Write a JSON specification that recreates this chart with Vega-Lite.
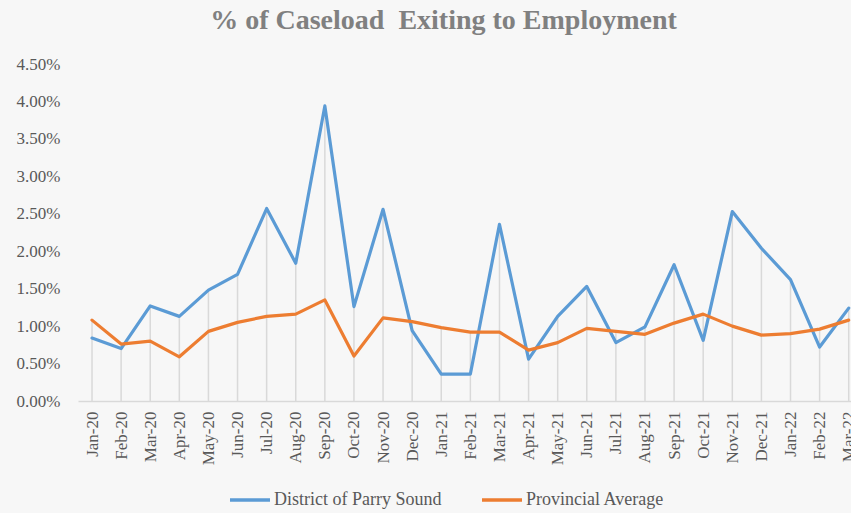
{
  "$schema": "https://vega.github.io/schema/vega-lite/v6.json",
  "autosize": {"type": "none"},
  "width": 773,
  "height": 337,
  "padding": {"left": 78, "top": 64, "right": 0, "bottom": 112},
  "background": "#F7F7F7",
  "config": {
    "view": {"stroke": null},
    "font": "Liberation Serif",
    "axis": {"labelFont": "Liberation Serif", "labelFontSize": 17, "labelColor": "#595959", "ticks": false, "grid": false, "title": null, "labelOverlap": false},
    "axisY": {"domain": false, "labelPadding": 18},
    "axisX": {"domainColor": "#D9D9D9", "domainWidth": 1.5, "labelPadding": 10, "labelAngle": -90}
  },
  "title": {
    "text": "% of Caseload \u00a0Exiting to Employment",
    "font": "Liberation Serif",
    "fontSize": 28,
    "fontWeight": "bold",
    "color": "#808080",
    "anchor": "middle",
    "baseline": "alphabetic",
    "offset": -2,
    "dx": -21
  },
  "data": {
    "values": [
      {"month": "Jan-20", "series": "District of Parry Sound", "value": 0.0084},
      {"month": "Feb-20", "series": "District of Parry Sound", "value": 0.0070},
      {"month": "Mar-20", "series": "District of Parry Sound", "value": 0.0127},
      {"month": "Apr-20", "series": "District of Parry Sound", "value": 0.0113},
      {"month": "May-20", "series": "District of Parry Sound", "value": 0.0148},
      {"month": "Jun-20", "series": "District of Parry Sound", "value": 0.0169},
      {"month": "Jul-20", "series": "District of Parry Sound", "value": 0.0257},
      {"month": "Aug-20", "series": "District of Parry Sound", "value": 0.0184},
      {"month": "Sep-20", "series": "District of Parry Sound", "value": 0.0394},
      {"month": "Oct-20", "series": "District of Parry Sound", "value": 0.0126},
      {"month": "Nov-20", "series": "District of Parry Sound", "value": 0.0256},
      {"month": "Dec-20", "series": "District of Parry Sound", "value": 0.0094},
      {"month": "Jan-21", "series": "District of Parry Sound", "value": 0.0036},
      {"month": "Feb-21", "series": "District of Parry Sound", "value": 0.0036},
      {"month": "Mar-21", "series": "District of Parry Sound", "value": 0.0236},
      {"month": "Apr-21", "series": "District of Parry Sound", "value": 0.0056},
      {"month": "May-21", "series": "District of Parry Sound", "value": 0.0113},
      {"month": "Jun-21", "series": "District of Parry Sound", "value": 0.0153},
      {"month": "Jul-21", "series": "District of Parry Sound", "value": 0.0078},
      {"month": "Aug-21", "series": "District of Parry Sound", "value": 0.0099},
      {"month": "Sep-21", "series": "District of Parry Sound", "value": 0.0182},
      {"month": "Oct-21", "series": "District of Parry Sound", "value": 0.0081},
      {"month": "Nov-21", "series": "District of Parry Sound", "value": 0.0253},
      {"month": "Dec-21", "series": "District of Parry Sound", "value": 0.0204},
      {"month": "Jan-22", "series": "District of Parry Sound", "value": 0.0162},
      {"month": "Feb-22", "series": "District of Parry Sound", "value": 0.0072},
      {"month": "Mar-22", "series": "District of Parry Sound", "value": 0.0124},
      {"month": "Jan-20", "series": "Provincial Average", "value": 0.0108},
      {"month": "Feb-20", "series": "Provincial Average", "value": 0.0076},
      {"month": "Mar-20", "series": "Provincial Average", "value": 0.0080},
      {"month": "Apr-20", "series": "Provincial Average", "value": 0.0059},
      {"month": "May-20", "series": "Provincial Average", "value": 0.0093},
      {"month": "Jun-20", "series": "Provincial Average", "value": 0.0105},
      {"month": "Jul-20", "series": "Provincial Average", "value": 0.0113},
      {"month": "Aug-20", "series": "Provincial Average", "value": 0.0116},
      {"month": "Sep-20", "series": "Provincial Average", "value": 0.0135},
      {"month": "Oct-20", "series": "Provincial Average", "value": 0.0060},
      {"month": "Nov-20", "series": "Provincial Average", "value": 0.0111},
      {"month": "Dec-20", "series": "Provincial Average", "value": 0.0106},
      {"month": "Jan-21", "series": "Provincial Average", "value": 0.0098},
      {"month": "Feb-21", "series": "Provincial Average", "value": 0.0092},
      {"month": "Mar-21", "series": "Provincial Average", "value": 0.0092},
      {"month": "Apr-21", "series": "Provincial Average", "value": 0.0068},
      {"month": "May-21", "series": "Provincial Average", "value": 0.0078},
      {"month": "Jun-21", "series": "Provincial Average", "value": 0.0097},
      {"month": "Jul-21", "series": "Provincial Average", "value": 0.0093},
      {"month": "Aug-21", "series": "Provincial Average", "value": 0.0089},
      {"month": "Sep-21", "series": "Provincial Average", "value": 0.0104},
      {"month": "Oct-21", "series": "Provincial Average", "value": 0.0116},
      {"month": "Nov-21", "series": "Provincial Average", "value": 0.0100},
      {"month": "Dec-21", "series": "Provincial Average", "value": 0.0088},
      {"month": "Jan-22", "series": "Provincial Average", "value": 0.0090},
      {"month": "Feb-22", "series": "Provincial Average", "value": 0.0096},
      {"month": "Mar-22", "series": "Provincial Average", "value": 0.0108}
    ]
  },
  "encoding": {
    "x": {
      "field": "month",
      "type": "ordinal",
      "sort": null,
      "scale": {"type": "point", "padding": 0.28, "align": 0.86},
      "axis": {"title": null}
    }
  },
  "layer": [
    {
      "mark": {"type": "rule", "color": "#D9D9D9", "strokeWidth": 1.5},
      "encoding": {
        "y": {
          "aggregate": "max", "field": "value", "type": "quantitative",
          "scale": {"domain": [0, 0.045], "nice": false},
          "axis": {"title": null, "values": [0, 0.005, 0.01, 0.015, 0.02, 0.025, 0.03, 0.035, 0.04, 0.045], "format": ".2%"}
        },
        "y2": {"datum": 0}
      }
    },
    {
      "mark": {"type": "line", "strokeWidth": 3.2, "strokeJoin": "round", "strokeCap": "round"},
      "encoding": {
        "y": {
          "field": "value",
          "type": "quantitative",
          "scale": {"domain": [0, 0.045], "nice": false},
          "axis": {"title": null, "values": [0, 0.005, 0.01, 0.015, 0.02, 0.025, 0.03, 0.035, 0.04, 0.045], "format": ".2%"}
        },
        "color": {
          "field": "series",
          "type": "nominal",
          "scale": {"domain": ["District of Parry Sound", "Provincial Average"], "range": ["#5B9BD5", "#ED7D31"]},
          "legend": {
            "title": null,
            "orient": "none",
            "direction": "horizontal",
            "legendX": 150,
            "legendY": 414,
            "symbolType": "stroke",
            "symbolSize": 1600,
            "symbolStrokeWidth": 3.5,
            "labelFont": "Liberation Serif",
            "labelFontSize": 18,
            "labelLimit": 400,
            "labelColor": "#595959",
            "labelOffset": 2,
            "columnPadding": 33
          }
        }
      }
    }
  ]
}
